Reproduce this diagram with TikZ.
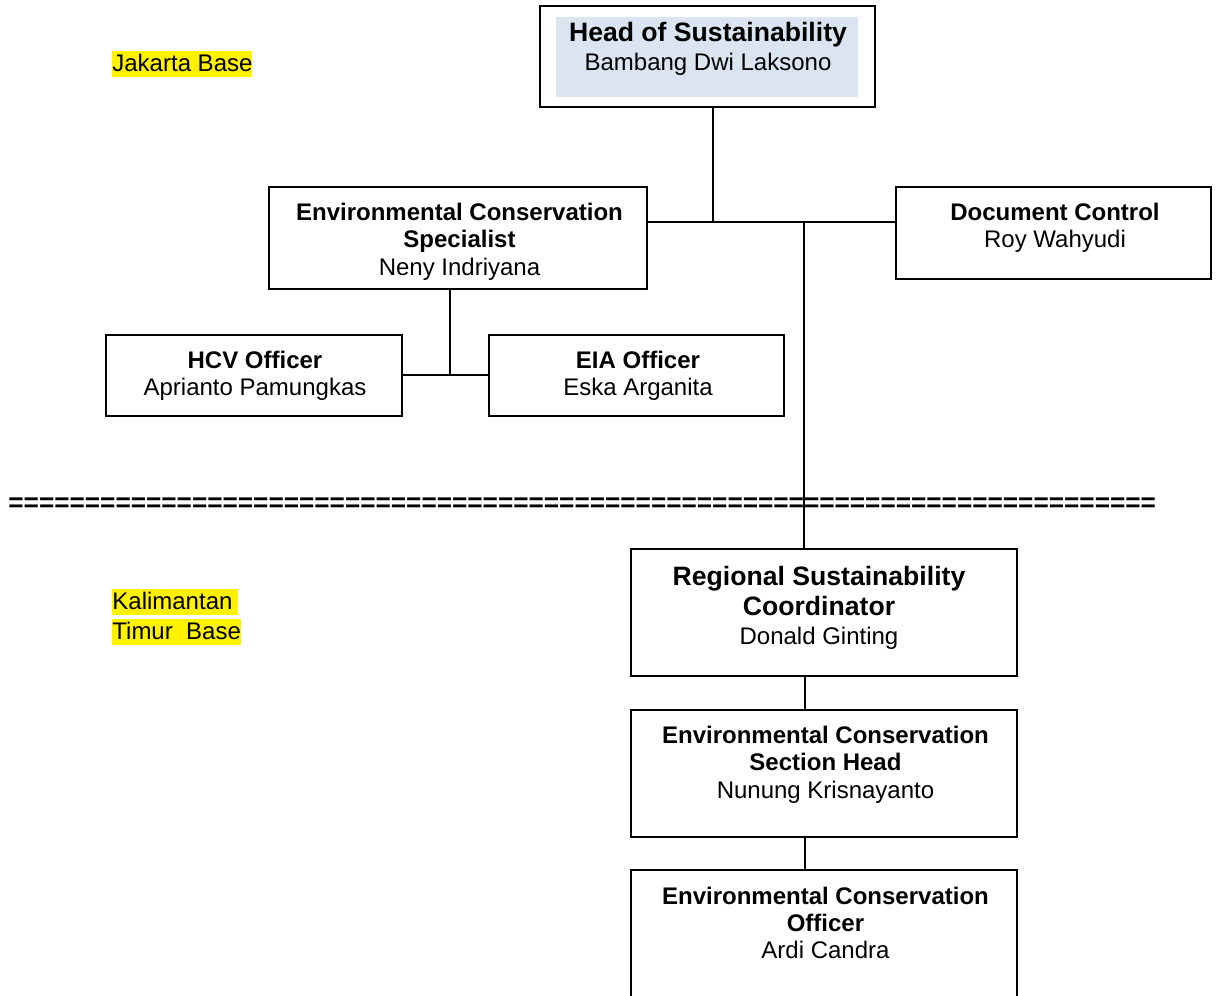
\documentclass[tikz,border=0pt]{standalone}
\usepackage{fontspec}
\setmainfont{Liberation Sans}
\definecolor{headblue}{HTML}{DBE5F1}
\begin{document}
\begin{tikzpicture}[x=0.5pt,y=-0.5pt,
  box/.style={draw, line width=1pt, inner sep=0pt, fill=white},
  nm/.style={anchor=base, inner sep=0pt, font=\fontsize{12}{14}\selectfont},
  bd/.style={anchor=base, inner sep=0pt, font=\fontsize{12}{14}\selectfont\bfseries},
  big/.style={anchor=base, inner sep=0pt, font=\fontsize{13.3}{15}\selectfont\bfseries},
  hl/.style={anchor=base west, fill=yellow, inner xsep=0pt, inner ysep=0pt, text height=10pt, text depth=3pt, font=\fontsize{12}{14}\selectfont},
  conn/.style={line width=0.75pt}]
\useasboundingbox (0,0) rectangle (1217,996);
\clip (0,0) rectangle (1217,996);

% connector junctions
\coordinate (j1) at (713,222);
\coordinate (j2) at (804,222);
\coordinate (j3) at (450,375);
\coordinate (j4) at (805,693);

% boxes
\node[box, minimum width=167.5pt, minimum height=50.5pt] (head) at (707,56.5) {};
\fill[headblue] (556,17) rectangle (858,97);
\node[box, minimum width=189pt, minimum height=51pt] (spec) at (458,238) {};
\node[box, minimum width=157.5pt, minimum height=46pt] (doc) at (1053.5,233) {};
\node[box, minimum width=148pt, minimum height=40.5pt] (hcv) at (254,375.5) {};
\node[box, minimum width=147.5pt, minimum height=40.5pt] (eia) at (636.5,375.5) {};
\node[box, minimum width=193pt, minimum height=63.5pt] (reg) at (824,612.5) {};
\node[box, minimum width=193pt, minimum height=63.5pt] (sec) at (824,773.5) {};
\node[box, minimum width=193pt, minimum height=70pt] (off) at (824,940) {};

% separator
\node[anchor=base west, inner sep=0pt, font=\fontsize{13.1}{15}\selectfont\bfseries] (sep) at (8,511) {===========================================================================};

% connectors
\draw[conn] (head.south -| j1) -- (j1);
\draw[conn] (spec.east |- j1) -- (doc.west |- j1);
\draw[conn] (j2) -- (reg.north -| j2);
\draw[conn] (spec.south -| j3) -- (j3);
\draw[conn] (hcv.east |- j3) -- (eia.west |- j3);
\draw[conn] (reg.south -| j4) -- (sec.north -| j4);
\draw[conn] (sec.south -| j4) -- (off.north -| j4);

% texts
\node[big] (headt1) at (708,41) {Head of Sustainability};
\node[nm] (headt2) at (708,70) {Bambang Dwi Laksono};

\node[bd] (spect1) at (459.5,220) {Environmental Conservation};
\node[bd] (spect2) at (459.5,247) {Specialist};
\node[nm] (spect3) at (459.5,275) {Neny Indriyana};

\node[bd] (doct1) at (1055,220) {Document Control};
\node[nm] (doct2) at (1055,247) {Roy Wahyudi};

\node[bd] (hcvt1) at (255,368) {HCV Officer};
\node[nm] (hcvt2) at (255,395) {Aprianto Pamungkas};

\node[bd] (eiat1) at (638,368) {EIA Officer};
\node[nm] (eiat2) at (638,395) {Eska Arganita};

\node[big] (regt1) at (819,585) {Regional Sustainability};
\node[big] (regt2) at (819,615) {Coordinator};
\node[nm] (regt3) at (819,644) {Donald Ginting};

\node[bd] (sect1) at (825.5,743) {Environmental Conservation};
\node[bd] (sect2) at (825.5,770) {Section Head};
\node[nm] (sect3) at (825.5,798) {Nunung Krisnayanto};

\node[bd] (offt1) at (825.5,904) {Environmental Conservation};
\node[bd] (offt2) at (825.5,931) {Officer};
\node[nm] (offt3) at (825.5,958) {Ardi Candra};

% base labels
\node[hl] (jkt) at (112,71) {Jakarta Base};
\node[hl] (kal1) at (112,609) {Kalimantan\kern3pt\relax};
\node[hl] (kal2) at (112,639) {Timur\ \ Base};
\end{tikzpicture}
\end{document}
